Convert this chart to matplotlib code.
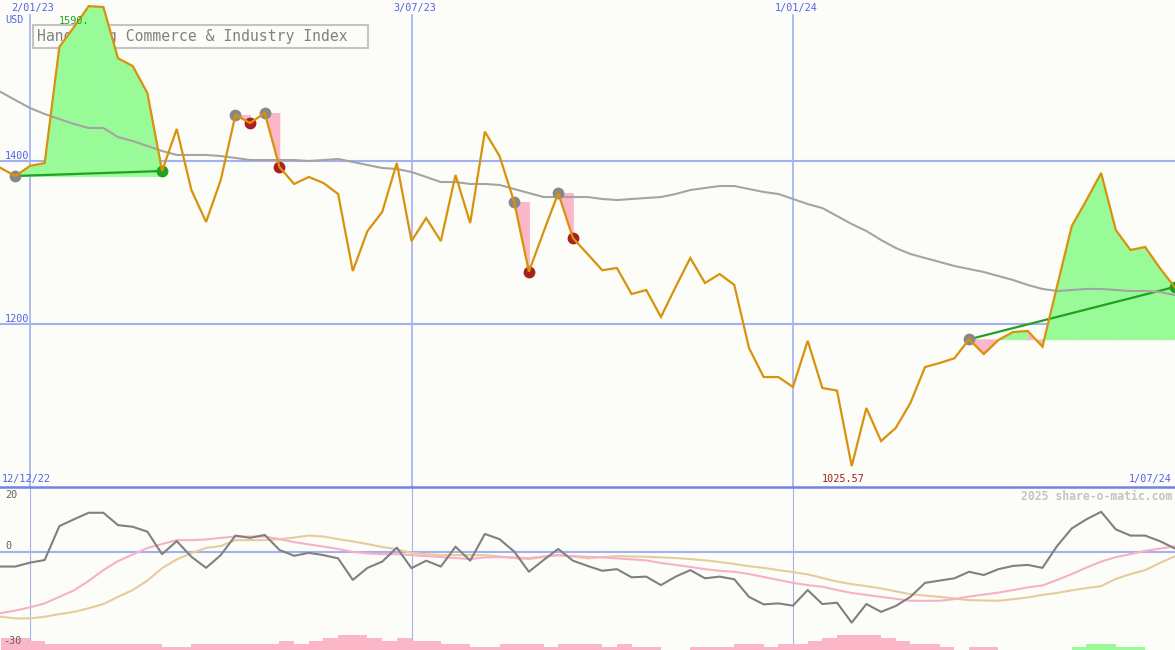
import numpy as np
import matplotlib
matplotlib.use("Agg")
import matplotlib.pyplot as plt
from matplotlib.patches import Rectangle
from matplotlib.lines import Line2D

# ---------------- data (weekly, week 0 = 2 Jan 2023) ----------------
weeks = list(range(-2, 79))

price = [1391.4, 1381.6, 1394.0, 1397.5, 1539.9, 1564.4, 1590.0, 1589.0, 1526.0, 1516.6,
         1483.4, 1387.7, 1439.3, 1364.4, 1325.2, 1376.7, 1456.4, 1446.6, 1458.9, 1392.6,
         1371.8, 1380.4, 1373.0, 1359.5, 1265.0, 1314.1, 1337.4, 1397.5, 1301.8, 1330.0,
         1301.8, 1382.8, 1323.9, 1436.0, 1406.1, 1349.7, 1264.2, 1313.0, 1360.7, 1305.5,
         1285.9, 1266.0, 1268.7, 1236.8, 1241.7, 1208.6, 1245.4, 1281.0, 1250.3, 1261.3,
         1247.9, 1170.6, 1134.9, 1134.9, 1122.7, 1179.4, 1121.5, 1118.3, 1025.57, 1096.9,
         1056.4, 1072.4, 1103.0, 1147.2, 1152.2, 1157.9, 1181.2, 1163.2, 1180.4, 1190.2,
         1191.4, 1172.2, 1246.6, 1320.2, 1352.0, 1385.3, 1315.3, 1290.8, 1294.5, 1268.7,
         1245.4]

moving_avg = [1484.7, 1474.8, 1465.0, 1457.7, 1451.5, 1445.4, 1440.5, 1440.5, 1429.4, 1424.5,
              1418.4, 1412.3, 1407.4, 1407.4, 1407.4, 1406.1, 1403.7, 1401.2, 1401.2, 1401.2,
              1401.2, 1400.0, 1401.2, 1402.5, 1398.8, 1395.1, 1391.4, 1390.2, 1386.5, 1380.4,
              1374.2, 1374.2, 1371.8, 1371.8, 1370.6, 1365.6, 1360.7, 1355.8, 1355.8, 1355.8,
              1355.8, 1353.4, 1352.1, 1353.4, 1354.6, 1355.8, 1359.5, 1364.4, 1366.9, 1369.3,
              1369.3, 1365.6, 1362.0, 1359.5, 1353.4, 1347.2, 1342.3, 1332.5, 1322.7, 1314.1,
              1303.1, 1293.3, 1285.9, 1281.0, 1276.1, 1271.2, 1267.5, 1263.8, 1258.9, 1254.0,
              1247.9, 1243.0, 1240.5, 1241.7, 1243.0, 1243.0, 1241.7, 1240.5, 1240.5, 1239.3,
              1235.6]

oscillator = [-4.4, -4.4, -3.2, -2.4, 8.0, 10.1, 12.1, 12.1, 8.3, 7.8,
              6.3, -0.6, 3.4, -1.4, -4.8, -0.9, 5.1, 4.4, 5.3, 0.7,
              -1.1, -0.2, -0.9, -1.9, -8.5, -4.8, -2.9, 1.4, -4.9, -2.6,
              -4.4, 1.7, -2.6, 5.6, 4.0, 0.2, -6.0, -2.4, 1.0, -2.6,
              -4.2, -5.7, -5.2, -7.7, -7.5, -10.1, -7.5, -5.5, -8.0, -7.5,
              -8.3, -13.7, -16.0, -15.7, -16.4, -11.6, -15.9, -15.5, -21.6, -15.9,
              -18.3, -16.5, -13.7, -9.4, -8.7, -8.0, -6.0, -7.0, -5.2, -4.2,
              -3.9, -4.8, 1.9, 7.3, 10.1, 12.4, 7.0, 5.1, 5.1, 3.4,
              1.2]

osc_fast_avg = [-18.7, -17.9, -16.9, -15.7, -13.7, -11.7, -8.8, -5.5, -2.7, -0.7,
                1.3, 2.5, 3.7, 3.7, 3.9, 4.4, 4.8, 4.8, 4.8, 4.0,
                3.1, 2.4, 1.7, 1.0, 0.1, -0.4, -0.6, -0.6, -0.9, -1.2,
                -1.5, -1.8, -2.1, -1.6, -1.5, -1.6, -1.8, -1.3, -0.9, -1.2,
                -1.4, -1.6, -1.9, -2.2, -2.5, -3.3, -3.9, -4.5, -5.2, -5.7,
                -6.0, -6.7, -7.6, -8.5, -9.4, -10.1, -10.6, -11.6, -12.5, -13.1,
                -13.7, -14.3, -14.9, -14.9, -14.9, -14.4, -13.6, -13.0, -12.4, -11.6,
                -10.8, -10.2, -8.5, -6.7, -4.7, -2.9, -1.5, -0.6, 0.4, 1.1,
                1.8]

osc_slow_avg = [-19.8, -20.3, -20.3, -19.8, -19.0, -18.3, -17.2, -15.9, -13.7, -11.6,
                -8.7, -4.9, -2.2, -0.3, 1.3, 1.9, 3.7, 3.7, 3.7, 4.0,
                4.5, 5.1, 4.8, 4.0, 3.3, 2.5, 1.6, 0.9, -0.2, -0.6,
                -0.9, -0.9, -0.9, -0.9, -1.3, -1.8, -2.1, -1.5, -0.9, -1.3,
                -1.9, -1.5, -1.2, -1.3, -1.4, -1.6, -1.8, -2.1, -2.5, -3.0,
                -3.6, -4.3, -4.8, -5.5, -6.1, -6.8, -7.9, -9.0, -9.8, -10.4,
                -11.1, -12.0, -12.9, -13.3, -13.7, -14.2, -14.7, -14.8, -14.9, -14.4,
                -13.9, -13.1, -12.5, -11.7, -11.0, -10.4, -8.2, -6.7, -5.5, -3.3,
                -1.3]

trend_bars = [-4, -4, -3, -2, -2, -2, -2, -2, -2, -2,
              -2, -1, -1, -2, -2, -2, -2, -2, -2, -3,
              -2, -3, -4, -5, -5, -4, -3, -4, -3, -3,
              -2, -2, -1, -1, -2, -2, -2, -1, -2, -2,
              -2, -1, -2, -1, -1, 0, 0, -1, -1, -1,
              -2, -2, -1, -2, -2, -3, -4, -5, -5, -5,
              -4, -3, -2, -2, -1, 0, -1, -1, 0, 0,
              0, 0, 0, 1, 2, 2, 1, 1, 0, 0,
              0]

# trades: entry week / exit week
trade_entry = [-1, 14, 16, 33, 36, 64]
trade_exit = [9, 15, 17, 34, 37, 78]

date_lines = [0, 26, 52]
date_labels = ["2/01/23", "3/07/23", "1/01/24"]
price_ticks = [1400, 1200]
title = "Hang Seng Commerce & Industry Index"

# ---------------- styling ----------------
W, H = 1175, 650
BG = "#fcfdf8"
BLUE = "#a3b1f0"
BLUE_TXT = "#5262e6"
ORANGE = "#d8920c"
GREEN_FILL = "#98fb98"
PINK_FILL = "#fbb6c8"
GREEN = "#22a022"
RED = "#a82020"
MONO = "DejaVu Sans Mono"

x = np.array(weeks, dtype=float)
p = np.array(price)
idx = {w: k for k, w in enumerate(weeks)}

fig = plt.figure(figsize=(W / 100, H / 100), dpi=100, facecolor=BG)
split = 487
ax = fig.add_axes([0, (H - split) / H, 1, split / H])
axl = fig.add_axes([0, 0, 1, (H - split) / H])
for a in (ax, axl):
    a.set_facecolor(BG)
    a.set_axis_off()

ppw = (793 - 30) / 52.0
x0 = -30 / ppw
x1 = x0 + W / ppw
ax.set_xlim(x0, x1)
axl.set_xlim(x0, x1)
ax.set_ylim(1000, 1000 + split / 0.815)
axl.set_ylim(-30, 20)


def fx(px):
    return px / W


def fy(py):
    return 1 - py / H


# grid lines main
for v in price_ticks:
    ax.axhline(v, color=BLUE, lw=1.5, zorder=1)
top_frac = (split - 15) / split
for d in date_lines:
    ax.axvline(d, ymin=0, ymax=top_frac, color=BLUE, lw=1.2, zorder=1)
    axl.axvline(d, color=BLUE, lw=0.8, zorder=1)
axl.axhline(0, color=BLUE, lw=1.5, zorder=1)

# title box (under fills)
ax.add_patch(Rectangle((fx(33), (split - 48) / split), (368 - 33) / W, 23 / split,
                       transform=ax.transAxes, facecolor=BG, edgecolor="#c4c4c4",
                       lw=1.5, zorder=0.8))
ax.text(fx(37), (split - 36.5) / split, title, transform=ax.transAxes,
        fontsize=10.6, family=MONO, color="#808080", va="center", ha="left", zorder=0.9)

# trade fills
for e, xx in zip(trade_entry, trade_exit):
    level = p[idx[e]]
    for k in range(idx[e], idx[xx]):
        col = GREEN_FILL if p[k + 1] >= level else PINK_FILL
        ax.fill_between([x[k], x[k + 1]], [p[k], p[k + 1]], level,
                        facecolor=col, edgecolor=col, lw=0.6, zorder=2)
    if p[idx[xx]] >= level:
        ax.plot([e, xx], [level, p[idx[xx]]], color=GREEN, lw=1.6, zorder=3)

# moving average
ax.plot(x, moving_avg, color="#a4a4a4", lw=1.5, zorder=3.5)

# markers
for e, xx in zip(trade_entry, trade_exit):
    ax.plot([e], [p[idx[e]]], "o", ms=8.5, color="#888888", mec="none", zorder=4)
    ecol = GREEN if p[idx[xx]] >= p[idx[e]] else RED
    ax.plot([xx], [p[idx[xx]]], "o", ms=8.5, color=ecol, mec="none", zorder=4)

# price line
ax.plot(x, p, color=ORANGE, lw=1.6, zorder=5, solid_joinstyle="miter")

# lower panel bars (step shape, one bar per week)
axb = axl.twinx()
axb.set_axis_off()
axb.set_ylim(0, (H - split) / 3.0)
axb.set_xlim(x0, x1)
bv = np.array(trend_bars, dtype=float)
bx = np.append(x, x[-1] + 1)
neg = np.append(np.where(bv < 0, -bv, 0), 0)
pos = np.append(np.where(bv > 0, bv, 0), 0)
axb.fill_between(bx, 0, neg, step="post", facecolor=PINK_FILL, lw=0, zorder=1)
axb.fill_between(bx, 0, pos, step="post", facecolor=GREEN_FILL, lw=0, zorder=1)

axl.plot(x, osc_slow_avg, color="#e6cc9c", lw=1.5, zorder=3)
axl.plot(x, osc_fast_avg, color="#f8b0c6", lw=1.5, zorder=3)
axl.plot(x, oscillator, color="#808080", lw=1.5, zorder=4)

# separator line
fig.add_artist(Line2D([0, 1], [fy(487), fy(487)], transform=fig.transFigure,
                      color="#7282e6", lw=1.8, zorder=10))

# texts
small = 7.3
for lab, d in zip(date_labels, date_lines):
    px = 30 + d * ppw
    fig.text(fx(px + 3), fy(8), lab, fontsize=small, family=MONO, color=BLUE_TXT,
             ha="center", va="center")
fig.text(fx(5), fy(20), "USD", fontsize=small, family=MONO, color=BLUE_TXT, va="center")
for v in price_ticks:
    py = split - (v - 1000) * 0.815
    fig.text(fx(5), fy(py - 5), str(v), fontsize=small, family=MONO, color=BLUE_TXT,
             va="center")
fig.text(fx(2), fy(479), "12/12/22", fontsize=small, family=MONO, color=BLUE_TXT, va="center")
fig.text(fx(1172), fy(479), "1/07/24", fontsize=small, family=MONO, color=BLUE_TXT,
         va="center", ha="right")
imin = int(np.argmin(p))
ax.text(x[imin] - 0.55, 1000 + (split - 479) / 0.815, f"{p[imin]:.2f}", fontsize=small,
        family=MONO, color="#a02020", va="center", ha="center", zorder=6)
imax = int(np.argmax(p))
ax.text(x[imax] + 0.03, 1000 + (split - 21) / 0.815, f"{p[imax]:.0f}.", fontsize=small,
        family=MONO, color=GREEN, va="center", ha="right", zorder=6)

fig.text(fx(5), fy(495), "20", fontsize=small, family=MONO, color="#606060", va="center")
fig.text(fx(5), fy(546), "0", fontsize=small, family=MONO, color="#606060", va="center")
fig.text(fx(3), fy(641), "-30", fontsize=small, family=MONO, color="#606060", va="center")
fig.text(fx(1172), fy(496), "2025 share-o-matic.com", fontsize=8.3, family=MONO,
         weight="bold", color="#c4c4c4", va="center", ha="right")

fig.savefig("out.png", dpi=100, facecolor=BG)
